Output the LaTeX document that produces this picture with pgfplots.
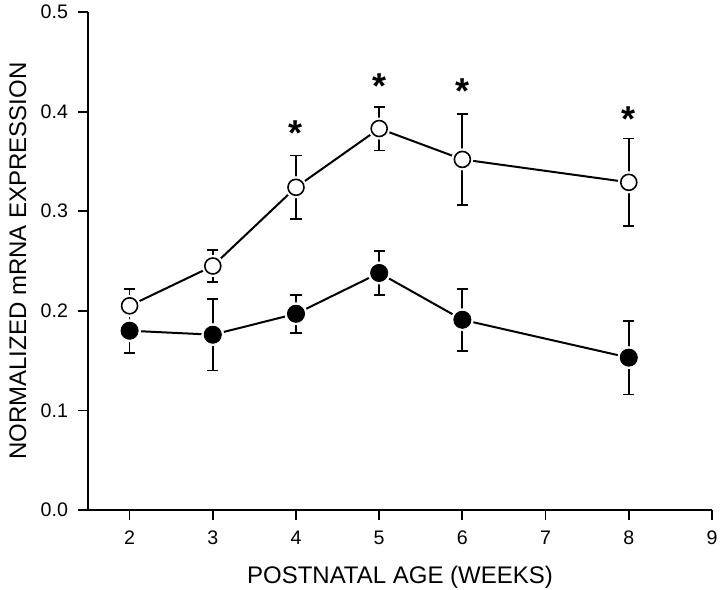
\documentclass[border=0pt]{standalone}
\usepackage{pgfplots}
\pgfplotsset{compat=1.18}
\usepackage{fontspec}
\setmainfont{Liberation Sans}
\begin{document}
\begin{tikzpicture}
\useasboundingbox (-44pt,-40pt) rectangle (316pt,255pt);
\begin{axis}[
  scale only axis, width=312pt, height=249pt,
  xmin=1.5, xmax=9, ymin=0, ymax=0.5,
  axis lines=left, axis line style={-, line width=0.9pt},
  xtick={2,3,4,5,6,7,8,9},
  ytick={0,0.1,0.2,0.3,0.4,0.5},
  y tick label style={/pgf/number format/fixed, /pgf/number format/fixed zerofill, /pgf/number format/precision=1, xshift=-1.5pt},
  x tick label style={yshift=-2pt},
  /pgf/number format/assume math mode=true,
  tick align=outside, major tick length=5pt,
  tick style={line width=0.9pt, black},
  ticklabel style={font=\fontsize{9.8pt}{11pt}\selectfont},
  xlabel={POSTNATAL AGE (WEEKS)},
  ylabel={NORMALIZED mRNA EXPRESSION},
  label style={font=\fontsize{12pt}{14pt}\selectfont},
  xlabel style={at={(axis description cs:0.5,0)}, anchor=center, yshift=-33.5pt},
  ylabel style={at={(axis description cs:-0.1122,0.5)}, anchor=center, rotate=0},
  clip=false,
]
% connecting lines
\addplot[black, line width=1pt, mark=none] coordinates {(2,0.205) (3,0.245) (4,0.324) (5,0.383) (6,0.352) (8,0.329)};
\addplot[black, line width=1pt, mark=none] coordinates {(2,0.180) (3,0.176) (4,0.197) (5,0.238) (6,0.191) (8,0.153)};
% white halos
\addplot[only marks, mark=*, mark size=5.3pt, draw=white, fill=white] coordinates {(2,0.205) (3,0.245) (4,0.324) (5,0.383) (6,0.352) (8,0.329)};
\addplot[only marks, mark=*, mark size=5.5pt, draw=white, fill=white] coordinates {(2,0.180) (3,0.176) (4,0.197) (5,0.238) (6,0.191) (8,0.153)};
% error bars
\addplot[draw=none, mark=none, error bars/.cd, y dir=both, y explicit,
  error bar style={line width=0.9pt, black},
  error mark options={rotate=90, mark size=2.8pt, line width=0.9pt, black}]
  coordinates {(2,0.205) +- (0,0.017) (3,0.245) +- (0,0.016) (4,0.324) +- (0,0.032) (5,0.383) +- (0,0.022) (6,0.352) +- (0,0.046) (8,0.329) +- (0,0.044)};
\addplot[draw=none, mark=none, error bars/.cd, y dir=both, y explicit,
  error bar style={line width=0.9pt, black},
  error mark options={rotate=90, mark size=2.8pt, line width=0.9pt, black}]
  coordinates {(2,0.180) +- (0,0.022) (3,0.176) +- (0,0.036) (4,0.197) +- (0,0.019) (5,0.238) +- (0,0.022) (6,0.191) +- (0,0.031) (8,0.153) +- (0,0.037)};
% markers
\addplot[only marks, mark=o, mark size=4pt, mark options={draw=black, fill=white, line width=0.8pt}] coordinates {(2,0.205) (3,0.245) (4,0.324) (5,0.383) (6,0.352) (8,0.329)};
\addplot[only marks, mark=*, mark size=4.3pt, mark options={draw=black, fill=black}] coordinates {(2,0.180) (3,0.176) (4,0.197) (5,0.238) (6,0.191) (8,0.153)};
% significance asterisks
\addplot[draw=none, mark=none, nodes near coords={\textbf{*}},
  every node near coord/.style={anchor=base, inner sep=0pt, font=\fontsize{18pt}{18pt}\selectfont}]
  coordinates {(4,0.366) (5,0.413) (6,0.408) (8,0.380)};
\end{axis}
\end{tikzpicture}
\end{document}
